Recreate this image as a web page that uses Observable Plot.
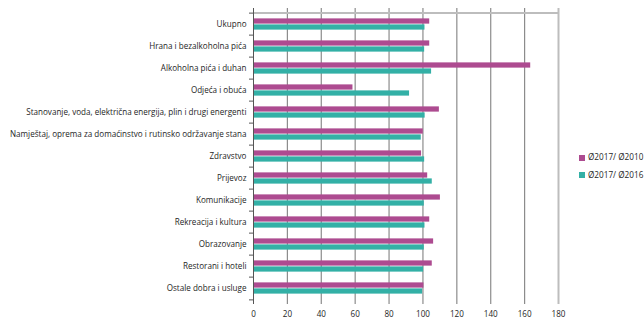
<!DOCTYPE html>
<html><head><meta charset="utf-8">
<script src="https://cdn.jsdelivr.net/npm/d3@7"></script>
<script src="https://cdn.jsdelivr.net/npm/@observablehq/plot@0.6"></script>
<style>
body{margin:0;background:#fff;font-family:"Open Sans",sans-serif;}
#wrap{position:relative;width:644px;height:320px;}
#legend{position:absolute;left:579px;top:148px;font-size:8.2px;color:#1e1e1e;line-height:17.5px;}
#legend .sw{display:inline-block;width:6px;height:6px;margin-right:3px;vertical-align:-0.5px;}
</style></head>
<body><div id="wrap"><div id="legend"></div></div>
<script>
const categories = ["Ukupno","Hrana i bezalkoholna pića","Alkoholna pića i duhan","Odjeća i obuća","Stanovanje, voda, električna energija, plin i drugi energenti","Namještaj, oprema za domaćinstvo i rutinsko održavanje stana","Zdravstvo","Prijevoz","Komunikacije","Rekreacija i kultura","Obrazovanje","Restorani i hoteli","Ostale dobra i usluge"];
const series = ["Ø2017/ Ø2010","Ø2017/ Ø2016"];
const values2010 = [104.0,104.0,163.6,58.7,109.7,100.2,99.2,102.8,110.3,104.0,106.3,105.5,100.6];
const values2016 = [101.2,101.0,105.1,92.1,101.3,99.0,101.0,105.5,100.8,101.2,100.8,100.4,99.8];
const xTicks = [0,20,40,60,80,100,120,140,160,180];
const colors = ["#ad4b90","#33b0a6"];

const W=644,H=320,mt=8,mb=16,ml=253,mr=86;
const step=(H-mt-mb)/categories.length;
const barH=6;
const d10=categories.map((c,i)=>({cat:c,v:values2010[i]}));
const d16=categories.map((c,i)=>({cat:c,v:values2016[i]}));
const last=[categories[categories.length-1]];

const chart=Plot.plot({
  width:W,height:H,marginTop:mt,marginBottom:mb,marginLeft:ml,marginRight:mr,
  style:{fontFamily:"Open Sans, sans-serif",fontSize:"8.1px",color:"#1e1e1e",background:"transparent"},
  x:{domain:[0,180],ticks:xTicks,label:null,tickSize:0,tickPadding:7},
  y:{domain:categories,padding:0,label:null,tickSize:0,tickPadding:7},
  marks:[
    Plot.ruleX(xTicks.slice(1,-1),{stroke:"#8c8c8c",strokeWidth:1.2}),
    Plot.ruleX([180],{stroke:"#bdbdbd",strokeWidth:2}),
    Plot.ruleY([categories[0]],{x1:0,x2:180,dy:-step/2,stroke:"#bdbdbd",strokeWidth:2}),
    Plot.barX(d10,{y:"cat",x:"v",fill:colors[0],insetTop:step/2-barH,insetBottom:step/2}),
    Plot.barX(d16,{y:"cat",x:"v",fill:colors[1],insetTop:step/2,insetBottom:step/2-barH}),
    Plot.ruleX([0],{stroke:"#555",strokeWidth:1}),
    Plot.ruleY(categories,{x1:0,x2:0,insetLeft:-4,dy:-step/2,stroke:"#555"}),
    Plot.ruleY(last,{x1:0,x2:0,insetLeft:-4,dy:step/2,stroke:"#555"})
  ]
});
document.getElementById("wrap").appendChild(chart);
document.getElementById("legend").innerHTML=series.map((s,i)=>`<div><span class="sw" style="background:${colors[i]}"></span>${s}</div>`).join("");
</script></body></html>
